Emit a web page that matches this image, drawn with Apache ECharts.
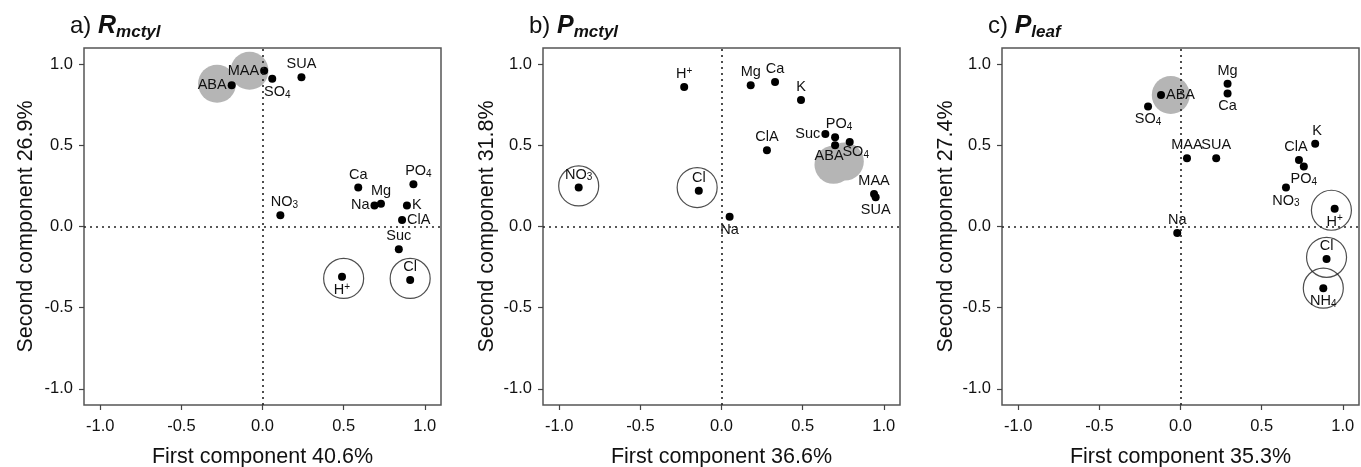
<!DOCTYPE html>
<html>
<head>
<meta charset="utf-8">
<script src="https://cdn.jsdelivr.net/npm/echarts@6/dist/echarts.min.js"></script>
<style>html,body{margin:0;padding:0;background:#fff}#c{width:1361px;height:467px}</style>
</head>
<body>
<div id="c"></div>
<script>
// ---------- data ----------
const tickValues = [-1.0, -0.5, 0.0, 0.5, 1.0];

// panel a) R mctyl
const aNames = ['ABA','MAA','SO4','SUA','Ca','Mg','Na','PO4','K','ClA','NO3','Suc','H+','Cl'];
const aPC1   = [-0.19, 0.01, 0.06, 0.24, 0.59, 0.73, 0.69, 0.93, 0.89, 0.86, 0.11, 0.84, 0.49, 0.91];
const aPC2   = [ 0.87, 0.96, 0.91, 0.92, 0.24, 0.14, 0.13, 0.26, 0.13, 0.04, 0.07,-0.14,-0.31,-0.33];
const aGreyX = [-0.28, -0.08];
const aGreyY = [ 0.88,  0.96];
const aRingX = [ 0.50,  0.91];
const aRingY = [-0.32, -0.32];

// panel b) P mctyl
const bNames = ['H+','Mg','Ca','K','ClA','Suc','PO4','SO4','ABA','MAA','SUA','NO3','Cl','Na'];
const bPC1   = [-0.23, 0.18, 0.33, 0.49, 0.28, 0.64, 0.70, 0.79, 0.70, 0.94, 0.95,-0.88,-0.14, 0.05];
const bPC2   = [ 0.86, 0.87, 0.89, 0.78, 0.47, 0.57, 0.55, 0.52, 0.50, 0.20, 0.18, 0.24, 0.22, 0.06];
const bGreyX = [ 0.69,  0.76];
const bGreyY = [ 0.38,  0.40];
const bRingX = [-0.88, -0.15];
const bRingY = [ 0.25,  0.24];

// panel c) P leaf
const cNames = ['ABA','SO4','Mg','Ca','K','MAA','SUA','ClA','PO4','NO3','H+','Na','Cl','NH4'];
const cPC1   = [-0.12,-0.20, 0.29, 0.29, 0.83, 0.04, 0.22, 0.73, 0.76, 0.65, 0.95,-0.02, 0.90, 0.88];
const cPC2   = [ 0.81, 0.74, 0.88, 0.82, 0.51, 0.42, 0.42, 0.41, 0.37, 0.24, 0.11,-0.04,-0.20,-0.38];
const cGreyX = [-0.06];
const cGreyY = [ 0.81];
const cRingX = [ 0.93,  0.90,  0.88];
const cRingY = [ 0.10, -0.19, -0.38];

const titlesLetter = ['a)', 'b)', 'c)'];
const titlesMain   = ['R', 'P', 'P'];
const titlesSub    = ['mctyl', 'mctyl', 'leaf'];
const xTitles = ['First component 40.6%', 'First component 36.6%', 'First component 35.3%'];
const yTitles = ['Second component 26.9%', 'Second component 31.8%', 'Second component 27.4%'];

// ---------- styling (label placement) ----------
const labelPlace = [
  {ABA:['left'],MAA:['left'],SO4:['bottom',[5,0]],SUA:['top'],Ca:['top'],Mg:['top'],Na:['left'],
   PO4:['top',[5,0]],K:['right'],ClA:['right'],NO3:['top',[4,0]],Suc:['top'],'H+':['bottom'],Cl:['top']},
  {'H+':['top'],Mg:['top'],Ca:['top'],K:['top'],ClA:['top'],Suc:['left'],PO4:['top',[4,0]],
   SO4:['bottom',[6,-3]],ABA:['bottom',[-6,-2]],MAA:['top'],SUA:['bottom'],NO3:['top'],Cl:['top'],Na:['bottom']},
  {ABA:['right'],SO4:['bottom'],Mg:['top'],Ca:['bottom'],K:['top',[2,0]],MAA:['top'],SUA:['top'],
   ClA:['top',[-3,0]],PO4:['bottom'],NO3:['bottom'],'H+':['bottom'],Na:['top'],Cl:['top'],NH4:['bottom']}
];

const FONT = '"Liberation Sans", Arial, Helvetica, sans-serif';
const gridLefts = [84, 543, 1002];
const nameGapsY = [47, 45, 45];

function fmtName(n) {
  if (n === 'H+') return '{t|H}{p|+}';
  const m = n.match(/^([A-Za-z]+)(\d)$/);
  if (m) return '{t|' + m[1] + '}{s|' + m[2] + '}';
  return '{t|' + n + '}';
}
const labelRich = {
  t: {fontSize: 14.5, lineHeight: 16, color: '#111', fontFamily: FONT},
  s: {fontSize: 10, lineHeight: 9, color: '#111', fontFamily: FONT, verticalAlign: 'bottom'},
  p: {fontSize: 10, lineHeight: 9, color: '#111', fontFamily: FONT, verticalAlign: 'top'}
};

const panels = [
  {names: aNames, x: aPC1, y: aPC2, gx: aGreyX, gy: aGreyY, rx: aRingX, ry: aRingY},
  {names: bNames, x: bPC1, y: bPC2, gx: bGreyX, gy: bGreyY, rx: bRingX, ry: bRingY},
  {names: cNames, x: cPC1, y: cPC2, gx: cGreyX, gy: cGreyY, rx: cRingX, ry: cRingY}
];

const grid = [], xAxis = [], yAxis = [], series = [], title = [];
panels.forEach((p, i) => {
  grid.push({left: gridLefts[i], top: 48, width: 357, height: 357, show: true,
    borderColor: '#555', borderWidth: 1.5, backgroundColor: 'transparent',
    containLabel: false, outerBoundsMode: 'none'});
  const axisCommon = {
    gridIndex: i, type: 'value', min: -1.1, max: 1.1,
    splitLine: {show: false}, axisLine: {show: false, onZero: false},
    axisTick: {show: true, inside: false, length: 5, customValues: tickValues, lineStyle: {color: '#444', width: 1.2}},
    axisLabel: {customValues: tickValues, color: '#111', fontSize: 16.5, fontFamily: FONT,
      formatter: v => Number(v).toFixed(1)},
    nameLocation: 'middle',
    nameTextStyle: {fontSize: 21.5, color: '#111', fontFamily: FONT}
  };
  xAxis.push(Object.assign({}, axisCommon, {position: 'bottom', name: xTitles[i], nameGap: 41,
    axisLabel: Object.assign({}, axisCommon.axisLabel, {margin: 13})}));
  yAxis.push(Object.assign({}, axisCommon, {position: 'left', name: yTitles[i], nameGap: nameGapsY[i],
    axisLabel: Object.assign({}, axisCommon.axisLabel, {margin: 11})}));

  title.push({
    left: gridLefts[i] - 19, top: 6,
    text: '{n|' + titlesLetter[i] + ' }{b|' + titlesMain[i] + '}{sub|' + titlesSub[i] + '}',
    textStyle: {fontWeight: 'normal', rich: {
      n: {fontSize: 24, lineHeight: 30, fontWeight: 'normal', color: '#111', fontFamily: FONT},
      b: {fontSize: 25, lineHeight: 30, fontWeight: 'bold', fontStyle: 'italic', color: '#111', fontFamily: FONT},
      sub: {fontSize: 17, lineHeight: 15, fontWeight: 'bold', fontStyle: 'italic', color: '#111', fontFamily: FONT, verticalAlign: 'bottom'}
    }}
  });

  // grey filled circles
  series.push({type: 'scatter', xAxisIndex: i, yAxisIndex: i, silent: true, z: 1,
    symbolSize: 38, itemStyle: {color: '#b5b5b5', opacity: 1},
    data: p.gx.map((v, k) => [v, p.gy[k]])});
  // open rings
  series.push({type: 'scatter', xAxisIndex: i, yAxisIndex: i, silent: true, z: 2,
    symbolSize: 40, itemStyle: {color: 'rgba(0,0,0,0)', borderColor: '#222', borderWidth: 1.2},
    data: p.rx.map((v, k) => [v, p.ry[k]])});
  // points + labels + zero lines
  series.push({type: 'scatter', xAxisIndex: i, yAxisIndex: i, z: 3,
    symbolSize: 8, itemStyle: {color: '#000', opacity: 1},
    data: p.names.map((n, k) => {
      const pl = labelPlace[i][n] || ['top'];
      return {name: n, value: [p.x[k], p.y[k]],
        label: {show: true, position: pl[0], offset: pl[1] || [0, 0], distance: 1,
          formatter: fmtName(n), rich: labelRich}};
    }),
    markLine: {silent: true, symbol: 'none', animation: false,
      lineStyle: {type: [2, 4], color: '#222', width: 1.6},
      label: {show: false},
      data: [{xAxis: 0}, {yAxis: 0}]}
  });
});

const chart = echarts.init(document.getElementById('c'), null, {renderer: 'canvas'});
chart.setOption({animation: false, backgroundColor: '#fff', title, grid, xAxis, yAxis, series});
</script>
</body>
</html>
